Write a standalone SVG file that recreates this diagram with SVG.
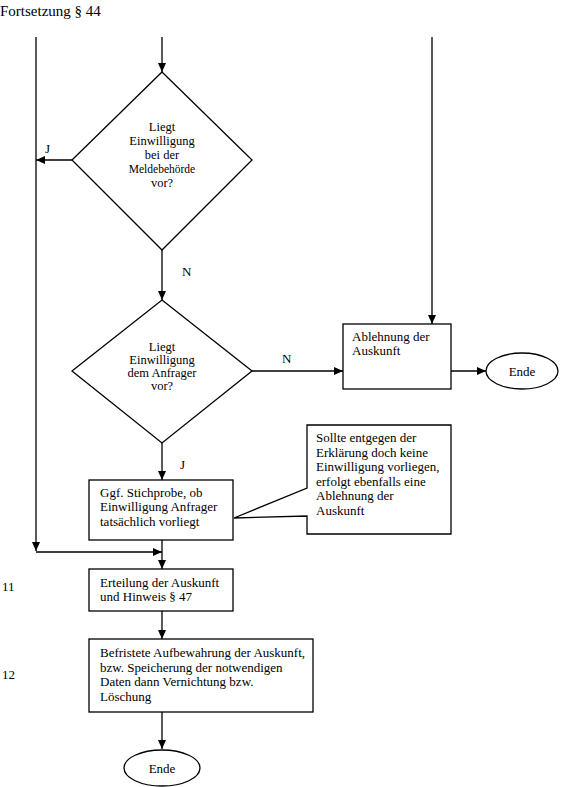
<svg xmlns="http://www.w3.org/2000/svg" width="575" height="787" viewBox="0 0 575 787">
<defs>
<marker id="ah" markerUnits="userSpaceOnUse" markerWidth="10" markerHeight="8" refX="9" refY="4" orient="auto">
<path d="M0,0 L9,4 L0,8 Z" fill="#000"/>
</marker>
<style>
.t{font-family:"Liberation Serif","Times New Roman",serif;font-size:13px;fill:#000}
.d{font-size:12.5px}
.c{text-anchor:middle}
.s{fill:#fff;stroke:#000;stroke-width:1.3}
.l{fill:none;stroke:#000;stroke-width:1.3}
.a{marker-end:url(#ah)}
</style>
</defs>
<rect width="575" height="787" fill="#fff"/>
<text class="t" x="0" y="16" style="font-size:15px">Fortsetzung § 44</text>
<text class="t" x="2" y="591">11</text>
<text class="t" x="2" y="679">12</text>

<g id="connectors">
<path class="l a" d="M36,37 V551"/>
<path class="l a" d="M36,552 H162"/>
<path class="l a" d="M162,37 V72"/>
<path class="l a" d="M72,160 H36"/>
<path class="l a" d="M162,250 V300"/>
<path class="l a" d="M252,371 H343"/>
<path class="l a" d="M432,37 V324"/>
<path class="l a" d="M451,371 H486"/>
<path class="l a" d="M162,443 V480"/>
<path class="l a" d="M162,540 V569"/>
<path class="l a" d="M162,611 V639"/>
<path class="l a" d="M162,712 V749"/>
<text class="t" x="45" y="153">J</text>
<text class="t" x="182" y="276">N</text>
<text class="t" x="282" y="363">N</text>
<text class="t" x="180" y="469">J</text>
</g>

<g id="d1">
<polygon class="s" points="162,72 252,160 162,250 72,160"/>
<text class="t c d" x="162" y="131">Liegt</text>
<text class="t c d" x="162" y="145">Einwilligung</text>
<text class="t c d" x="162" y="159">bei der</text>
<text class="t c" x="162" y="173" style="font-size:11.5px">Meldebehörde</text>
<text class="t c d" x="162" y="187">vor?</text>
</g>

<g id="d2">
<polygon class="s" points="162,300 252,371 162,443 72,371"/>
<text class="t c d" x="162" y="351">Liegt</text>
<text class="t c d" x="162" y="364">Einwilligung</text>
<text class="t c d" x="162" y="377">dem Anfrager</text>
<text class="t c d" x="162" y="390">vor?</text>
</g>

<g id="ablehnung">
<rect class="s" x="343" y="324" width="108" height="65"/>
<text class="t" x="352" y="341">Ablehnung der</text>
<text class="t" x="352" y="355">Auskunft</text>
</g>

<g id="ende1">
<ellipse class="s" cx="522" cy="371" rx="36" ry="18"/>
<text class="t c" x="522" y="376">Ende</text>
</g>

<g id="stichprobe">
<rect class="s" x="89" y="480" width="144" height="60"/>
<text class="t" x="100" y="497">Ggf. Stichprobe, ob</text>
<text class="t" x="100" y="511">Einwilligung Anfrager</text>
<text class="t" x="100" y="526">tatsächlich vorliegt</text>
</g>

<g id="callout">
<path class="s" d="M307,425 H451 V534 H307 V516 L234,518 L307,488 Z"/>
<text class="t" x="316" y="442">Sollte entgegen der</text>
<text class="t" x="316" y="456.5">Erklärung doch keine</text>
<text class="t" x="316" y="471">Einwilligung vorliegen,</text>
<text class="t" x="316" y="485.5">erfolgt ebenfalls eine</text>
<text class="t" x="316" y="500">Ablehnung der</text>
<text class="t" x="316" y="514.5">Auskunft</text>
</g>

<g id="erteilung">
<rect class="s" x="89" y="569" width="144" height="42"/>
<text class="t" x="100" y="587">Erteilung der Auskunft</text>
<text class="t" x="100" y="601">und Hinweis § 47</text>
</g>

<g id="aufbewahrung">
<rect class="s" x="89" y="639" width="224" height="73"/>
<text class="t" x="100" y="657">Befristete Aufbewahrung der Auskunft,</text>
<text class="t" x="100" y="671.5">bzw. Speicherung der notwendigen</text>
<text class="t" x="100" y="686">Daten dann Vernichtung bzw.</text>
<text class="t" x="100" y="700.5">Löschung</text>
</g>

<g id="ende2">
<ellipse class="s" cx="162" cy="768" rx="38" ry="18"/>
<text class="t c" x="162" y="773">Ende</text>
</g>
</svg>
